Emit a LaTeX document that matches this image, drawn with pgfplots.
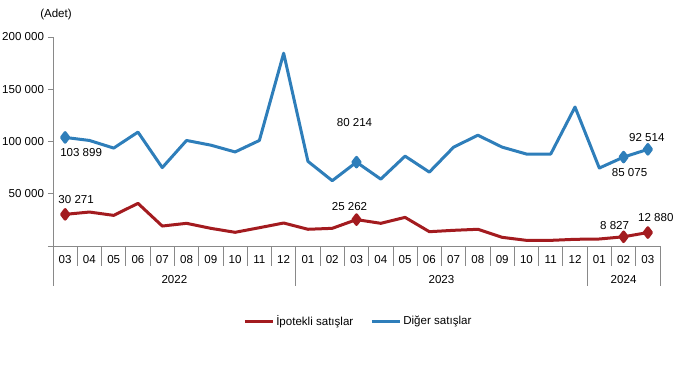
\documentclass[border=0pt]{standalone}
\usepackage{fontspec}
\setmainfont{Liberation Sans}
\usepackage{pgfplots}
\pgfplotsset{compat=1.18}
\definecolor{cred}{RGB}{163,27,31}
\definecolor{cblue}{RGB}{46,126,186}
\definecolor{axgray}{RGB}{137,137,137}
\begin{document}
\fontsize{11.6}{13.8}\selectfont
\begin{tikzpicture}
\useasboundingbox (0,0) rectangle (673bp,365bp);
\begin{axis}[
 at={(53bp,119bp)}, anchor=south west,
 scale only axis, width=607bp, height=209bp,
 xmin=-0.5, xmax=24.5, ymin=0, ymax=200000,
 scaled y ticks=false,
 axis x line=bottom, axis y line=left,
 axis line style={-, draw=axgray, line width=0.8bp},
 ytick={0,50000,100000,150000,200000},
 yticklabels={,50 000,100 000,150 000,200 000},
 ytick style={draw=axgray, line width=0.8bp},
 tick align=outside,
 major tick length=5bp,
 xtick={0,1,...,24},
 xticklabels={03,04,05,06,07,08,09,10,11,12,01,02,03,04,05,06,07,08,09,10,11,12,01,02,03},
 xtick style={draw=none},
 tick label style={font=\fontsize{11.6}{13.8}\selectfont, text=black},
 clip=false,
 legend style={at={(0.503,-0.359)}, anchor=center, draw=none, legend columns=2,
   font=\fontsize{11.6}{13.8}\selectfont,
   /tikz/every even column/.append style={column sep=15bp}},
 legend image code/.code={\draw[#1, line width=3bp] (0,0) -- (28bp,0);},
]
\addplot[cred, line width=3bp, line join=round, mark=diamond*, mark indices={1,13,24,25}, mark size=4.8bp, mark options={solid}] coordinates {
(0,30271) (1,32500) (2,29300) (3,40800) (4,19100) (5,21700) (6,16900) (7,13100) (8,17500) (9,22000)
(10,16000) (11,16900) (12,25262) (13,21700) (14,27400) (15,13700) (16,15000) (17,16000) (18,8300) (19,5400)
(20,5400) (21,6400) (22,6700) (23,8827) (24,12880)};
\addlegendentry{İpotekli satışlar}
\addplot[cblue, line width=3bp, line join=round, mark=diamond*, mark indices={1,13,24,25}, mark size=4.8bp, mark options={solid}] coordinates {
(0,103899) (1,101000) (2,93700) (3,109000) (4,75000) (5,101000) (6,96500) (7,90000) (8,101000) (9,184500)
(10,81000) (11,62500) (12,80214) (13,64000) (14,86000) (15,70700) (16,94600) (17,106000) (18,94600) (19,88000)
(20,88000) (21,133000) (22,74600) (23,85075) (24,92514)};
\addlegendentry{Diğer satışlar}
\pgfplotsinvokeforeach{-0.5,0.5,...,24.5}{
  \draw[axgray, line width=0.8bp] (axis cs:#1,0) -- ([yshift=-20bp]axis cs:#1,0);
}
\pgfplotsinvokeforeach{-0.5,9.5,21.5,24.5}{
  \draw[axgray, line width=0.8bp] (axis cs:#1,0) -- ([yshift=-40bp]axis cs:#1,0);
}
\node at ([yshift=-34bp]axis cs:4.5,0) {2022};
\node at ([yshift=-34bp]axis cs:15.5,0) {2023};
\node at ([yshift=-34bp]axis cs:23,0) {2024};
\node at ([xshift=16bp,yshift=-15bp]axis cs:0,103899) {103 899};
\node at ([xshift=11bp,yshift=15bp]axis cs:0,30271) {30 271};
\node at ([xshift=-2bp,yshift=40bp]axis cs:12,80214) {80 214};
\node at ([xshift=-7bp,yshift=13bp]axis cs:12,25262) {25 262};
\node at ([xshift=6bp,yshift=-15bp]axis cs:23,85075) {85 075};
\node at ([xshift=-1bp,yshift=12bp]axis cs:24,92514) {92 514};
\node at ([xshift=-9bp,yshift=11bp]axis cs:23,8827) {8 827};
\node at ([xshift=8bp,yshift=15bp]axis cs:24,12880) {12 880};
\end{axis}
\node at (56bp,350bp) {(Adet)};
\end{tikzpicture}
\end{document}
